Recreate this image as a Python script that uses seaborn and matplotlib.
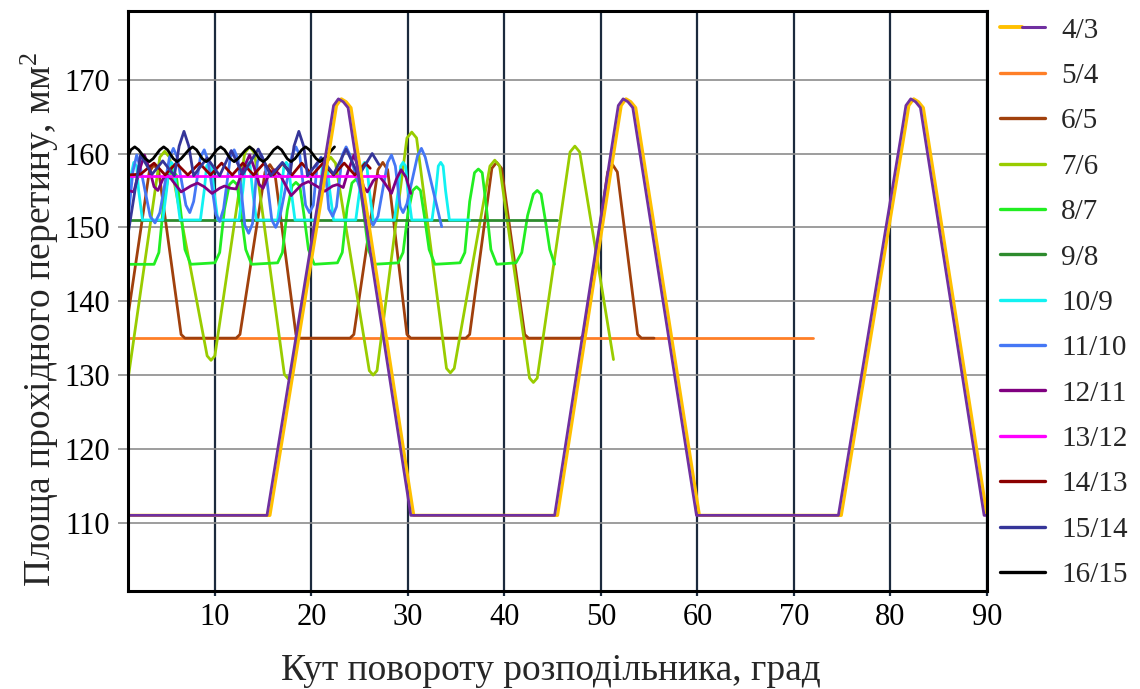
import matplotlib
matplotlib.use("Agg")
import matplotlib.pyplot as plt
import seaborn as sns
from matplotlib.lines import Line2D
from matplotlib.legend_handler import HandlerTuple

# ---------------- data ----------------
labels = ["4/3", "5/4", "6/5", "7/6", "8/7", "9/8", "10/9", "11/10",
          "12/11", "13/12", "14/13", "15/14", "16/15"]

x_43 = [1.0, 15.4, 21.9, 22.3, 22.8, 23.3, 23.8, 30.3, 45.2, 51.4, 51.8, 52.3, 52.8, 53.3,
        59.9, 74.6, 81.2, 81.6, 82.1, 82.6, 83.1, 89.7, 90.0]
y_43 = [111, 111, 163.2, 166.5, 167.4, 167.0, 166.2, 111, 111, 163.2, 166.5, 167.4, 167.0, 166.2,
        111, 111, 163.2, 166.5, 167.4, 167.0, 166.2, 111, 111]
x_43b = [1.0, 15.7, 22.2, 22.6, 23.1, 23.6, 24.1, 30.6, 45.5, 51.7, 52.1, 52.6, 53.1, 53.6,
         60.2, 74.9, 81.5, 81.9, 82.4, 82.9, 83.4, 90.0]
y_43b = [111, 111, 163.2, 166.5, 167.4, 167.0, 166.2, 111, 111, 163.2, 166.5, 167.4, 167.0, 166.2,
         111, 111, 163.2, 166.5, 167.4, 167.0, 166.2, 111]

x_54 = [1.0, 72.0]
y_54 = [135.0, 135.0]

x_65 = [1.0, 3.2, 3.7, 4.2, 6.5, 6.9, 12.2, 12.6, 15.2, 15.7, 16.2, 18.4, 18.8,
        24.0, 24.4, 26.9, 27.4, 27.9, 29.9, 30.3, 36.0, 36.4, 38.7, 39.2, 39.7, 42.1, 42.5,
        47.9, 48.3, 50.7, 51.2, 51.7, 53.8, 54.2, 55.5]
y_65 = [138, 157.5, 158.5, 157.5, 135.5, 135, 135, 135.5, 157.5, 158.5, 157.5, 135.5, 135,
        135, 135.5, 157.8, 158.8, 157.8, 135.5, 135, 135, 135.5, 158, 158.8, 158, 135.5, 135,
        135, 135.5, 157.5, 158.5, 157.5, 135.5, 135, 135]

x_76 = [1.0, 4.3, 4.8, 5.3, 9.2, 9.6, 10.0, 13.1, 13.6, 14.1, 17.2, 17.6, 18.0,
        21.5, 22.0, 22.5, 26.0, 26.4, 26.8, 29.9, 30.4, 30.9, 34.0, 34.4, 34.8,
        38.5, 39.0, 39.5, 42.6, 43.0, 43.4, 46.8, 47.3, 47.8, 51.3]
y_76 = [129.4, 159.5, 160.3, 159.5, 132.6, 132.0, 132.6, 160.1, 160.9, 160.1, 130.1, 129.5, 130.1,
        158.7, 159.5, 158.7, 130.6, 130.0, 130.6, 162.1, 162.9, 162.1, 130.9, 130.3, 130.9,
        158.3, 159.1, 158.3, 129.6, 129.0, 129.6, 160.2, 161.0, 160.2, 132.1]

x_87 = [1.0,
        3.7, 4.2, 4.7, 5.2, 5.6, 6.0, 6.4, 6.9, 7.5,
        10.0, 10.5, 11.0, 11.5, 11.9, 12.3, 12.7, 13.2, 13.8,
        16.5, 17.0, 17.5, 18.0, 18.4, 18.8, 19.2, 19.7, 20.3,
        22.7, 23.2, 23.7, 24.2, 24.6, 25.0, 25.4, 25.9, 26.5,
        29.0, 29.5, 30.0, 30.5, 30.9, 31.3, 31.7, 32.2, 32.8,
        35.4, 35.9, 36.4, 36.9, 37.3, 37.7, 38.1, 38.6, 39.2,
        41.2, 41.8, 42.4, 43.0, 43.4, 43.8, 44.2, 44.7, 45.2]
y_87 = [145.0,
        145.0, 146.6, 153.3, 157.1, 157.6, 157.1, 152.9, 147.0, 145.0,
        145.2, 146.6, 152.5, 155.8, 156.3, 155.8, 152.1, 147.0, 145.0,
        145.2, 146.6, 152.3, 155.6, 156.1, 155.6, 152.0, 147.0, 145.0,
        145.2, 146.6, 152.6, 156.0, 156.5, 156.0, 152.2, 147.0, 145.0,
        145.2, 146.6, 151.9, 155.0, 155.5, 155.0, 151.6, 147.0, 145.0,
        145.2, 146.6, 153.5, 157.4, 157.9, 157.4, 153.1, 147.0, 145.0,
        145.2, 146.6, 151.6, 154.5, 155.0, 154.5, 151.3, 147.0, 145.0]

x_98 = [1.0, 45.4]
y_98 = [151.0, 151.0]

x_109 = [1.0, 1.3, 1.6, 1.9, 2.1, 2.5,
         4.6, 5.0, 5.25, 5.5, 5.75, 6.0, 6.4,
         8.5, 8.9, 9.15, 9.4, 9.65, 9.9, 10.3,
         12.5, 12.9, 13.15, 13.4, 13.65, 13.9, 14.3,
         16.5, 16.9, 17.15, 17.4, 17.65, 17.9, 18.3,
         20.5, 20.9, 21.15, 21.4, 21.65, 21.9, 22.3,
         24.6, 25.0, 25.25, 25.5, 25.75, 26.0, 26.4,
         28.6, 29.0, 29.25, 29.5, 29.75, 30.0, 30.4,
         32.5, 32.9, 33.15, 33.4, 33.65, 33.9, 34.3,
         36.4]
y_109 = [153.0, 157.0, 158.8, 158.3, 155.0, 151.0,
         151, 155, 158.3, 158.8, 158.3, 155, 151,
         151, 155, 158.3, 158.8, 158.3, 155, 151,
         151, 155, 158.3, 158.8, 158.3, 155, 151,
         151, 155, 158.3, 158.8, 158.3, 155, 151,
         151, 155, 158.3, 158.8, 158.3, 155, 151,
         151, 155, 158.3, 158.8, 158.3, 155, 151,
         151, 155, 158.3, 158.8, 158.3, 155, 151,
         151, 155, 158.3, 158.8, 158.3, 155, 151,
         151.0]

x_1110 = [1.0, 1.5, 1.9, 2.3, 3.3, 3.8, 4.3, 5.3, 5.7, 6.1, 7.0, 7.4, 7.8, 8.5, 8.9, 9.3,
          10.1, 10.5, 10.9, 11.6, 12.0, 12.4, 13.1, 13.5, 13.9, 14.4, 14.8, 15.2, 15.9, 16.3,
          16.7, 18.0, 18.4, 18.8, 19.4, 19.8, 20.2, 20.6, 21.0, 21.4, 21.8, 22.2, 22.6, 23.2,
          23.6, 24.0, 25.9, 26.4, 26.9, 27.9, 28.3, 28.7, 29.2, 29.5, 29.9, 31.0, 31.4, 31.8,
          33.5]
y_1110 = [151.0, 157.5, 159.8, 158.0, 151.5, 150.6, 152.0, 159.5, 160.7, 159.5, 153.0, 152.0,
          153.5, 159.5, 160.5, 159.0, 151.8, 150.8, 152.5, 159.5, 160.5, 159.2, 150.3, 149.2,
          150.5, 158.8, 159.9, 158.5, 151.0, 150.0, 151.2, 159.8, 160.9, 159.7, 153.0, 152.0,
          153.0, 158.5, 159.5, 158.5, 152.5, 151.5, 152.8, 159.8, 160.9, 159.8, 151.3, 150.3,
          151.5, 158.8, 159.8, 158.3, 152.8, 152.0, 153.2, 159.7, 160.7, 159.5, 150.1]

x_1211 = [1.0, 1.6, 2.2, 2.7, 3.2, 3.7, 4.1, 4.6, 5.0, 5.5, 6.5, 7.5, 8.2, 8.9, 9.7, 10.5,
          11.0, 11.6, 12.2, 12.9, 13.6, 14.1, 14.6, 15.0, 15.6, 16.2, 16.8, 17.9, 19.0, 19.7,
          20.4, 21.4, 22.2, 22.7, 23.3, 23.8, 24.4, 24.9, 25.4, 25.8, 26.4, 27.0, 27.6, 28.3,
          28.8, 29.3, 29.8, 30.3]
y_1211 = [155.0, 154.8, 157.8, 159.8, 158.0, 155.5, 155.0, 156.5, 157.2, 156.5, 154.8, 155.6,
          156.0, 155.5, 154.6, 155.3, 155.6, 155.3, 155.2, 157.8, 159.8, 158.0, 155.8, 155.3,
          157.2, 157.8, 157.0, 154.3, 155.8, 156.2, 155.7, 154.9, 155.6, 155.8, 155.4, 157.6,
          159.8, 158.0, 155.5, 154.8, 156.3, 157.0, 156.0, 154.6, 156.5, 157.8, 156.8, 154.6]

x_1312 = [1.0, 27.6]
y_1312 = [157.0, 157.0]

x_1413 = [1.0, 2.3, 3.7, 4.85, 6.0, 7.2, 8.4, 9.55, 10.7, 11.8, 12.9, 14.0, 15.1, 16.05,
          17.0, 18.0, 19.0, 20.1, 21.2, 22.3, 23.4, 24.5, 25.6, 26.1]
y_1413 = [157.1, 157.2, 158.7, 157.1, 158.7, 157.1, 158.7, 157.1, 158.7, 157.1, 158.7, 157.1,
          158.7, 157.1, 158.7, 157.1, 158.7, 157.1, 158.7, 157.1, 158.7, 157.1, 158.7, 158.0]

x_1514 = [1.0, 2.3, 3.5, 4.6, 5.8, 6.3, 6.8, 7.3, 7.8, 9.2, 10.5, 11.7, 12.9, 14.5, 15.8,
          17.0, 17.8, 18.2, 18.7, 19.2, 19.6, 21.0, 22.3, 23.6, 24.9, 26.3, 27.0]
y_1514 = [149.0, 159.8, 157.2, 159.0, 157.0, 161.0, 163.0, 161.0, 157.0, 159.4, 157.0, 160.4,
          157.2, 160.6, 157.0, 158.8, 157.3, 161.0, 163.0, 161.0, 157.0, 159.4, 157.2, 160.6,
          157.0, 160.0, 158.5]

x_1615 = [1.0, 1.3, 1.7, 2.1, 2.8, 3.2, 3.6, 4.3, 4.7, 5.1, 5.7, 6.1, 6.5, 7.3, 7.7, 8.1,
          8.7, 9.1, 9.5, 10.2, 10.6, 11.0, 11.6, 12.0, 12.4, 13.2, 13.6, 14.0, 14.6, 15.0,
          15.4, 16.1, 16.5, 16.9, 17.5, 17.9, 18.3, 19.0, 19.4, 19.8, 20.5, 20.9, 21.3, 22.4]
y_1615 = [159.6, 160.5, 160.9, 160.5, 159.3, 158.9, 159.3, 160.5, 160.9, 160.5, 159.3, 158.9,
          159.3, 160.5, 160.9, 160.5, 159.3, 158.9, 159.3, 160.5, 160.9, 160.5, 159.3, 158.9,
          159.3, 160.5, 160.9, 160.5, 159.3, 158.9, 159.3, 160.5, 160.9, 160.5, 159.3, 158.9,
          159.3, 160.5, 160.9, 160.5, 159.3, 158.9, 159.3, 160.9]

colors = {
    "4/3": "#7030A0", "4/3b": "#FFC000", "5/4": "#FF7F27", "6/5": "#A0400C",
    "7/6": "#99CC00", "8/7": "#22EE22", "9/8": "#2E8B2E", "10/9": "#12F2F2",
    "11/10": "#4577F5", "12/11": "#800080", "13/12": "#FF00FF", "14/13": "#8B0000",
    "15/14": "#353599", "16/15": "#000000",
}

x_ticks = [10, 20, 30, 40, 50, 60, 70, 80, 90]
y_ticks = [110, 120, 130, 140, 150, 160, 170]

# ---------------- style ----------------
sns.set_theme(style="white")
plt.rcParams["font.family"] = ["Liberation Serif", "DejaVu Serif"]
plt.rcParams["mathtext.fontset"] = "custom"
plt.rcParams["mathtext.rm"] = "Liberation Serif"
plt.rcParams["mathtext.it"] = "Liberation Serif:italic"

fig = plt.figure(figsize=(11.4, 6.89), dpi=100)
ax = fig.add_axes([0.11228, 0.14224, 0.75351, 0.84180])

LW = 2.0
series = [
    ("5/4", x_54, y_54), ("6/5", x_65, y_65), ("7/6", x_76, y_76), ("8/7", x_87, y_87),
    ("9/8", x_98, y_98), ("10/9", x_109, y_109), ("11/10", x_1110, y_1110),
    ("12/11", x_1211, y_1211), ("13/12", x_1312, y_1312), ("14/13", x_1413, y_1413),
    ("15/14", x_1514, y_1514), ("16/15", x_1615, y_1615),
]
for name, xs, ys in series:
    sns.lineplot(x=xs, y=ys, ax=ax, color=colors[name], lw=LW, estimator=None,
                 sort=False, legend=False)
sns.lineplot(x=x_43b, y=y_43b, ax=ax, color=colors["4/3b"], lw=LW + 0.3, estimator=None,
             sort=False, legend=False)
sns.lineplot(x=x_43, y=y_43, ax=ax, color=colors["4/3"], lw=LW, estimator=None,
             sort=False, legend=False)

ax.set_xlim(1, 90)
ax.set_ylim(100.76, 179.3)
ax.set_xticks(x_ticks)
ax.set_yticks(y_ticks)
ax.set_xlabel("")
ax.set_ylabel("")
ax.set_axisbelow(True)
ax.xaxis.grid(True, color="#1B2A3D", lw=1.6)
ax.yaxis.grid(True, color="#8C8C8C", lw=1.2)
ax.tick_params(axis="x", length=3.6, width=1.6, color="#1B2A3D", pad=5, labelsize=22,
               labelcolor="black", bottom=True)
ax.tick_params(axis="y", length=7, width=1.2, color="#8C8C8C", pad=6, labelsize=22,
               labelcolor="black", left=True)
for s in ax.spines.values():
    s.set_color("black")
    s.set_linewidth(2.2)
    s.set_visible(True)

fig.text(551 / 1140, 1 - 671 / 689, "Кут повороту розподільника, град",
         ha="center", va="center", fontsize=27)
fig.text(40 / 1140, 1 - 319 / 689, "Площа прохідного перетину, мм$^2$",
         ha="center", va="center", rotation=90, fontsize=27)

# legend
handles = []
for name in labels:
    if name == "4/3":
        h = (Line2D([], [], color=colors["4/3b"], lw=2.8),
             Line2D([], [], color=colors["4/3"], lw=2.2))
    else:
        h = Line2D([], [], color=colors[name], lw=2.4)
    handles.append(h)
fig.legend(handles, labels, loc="upper left", bbox_to_anchor=(0.877, 0.975),
           frameon=False, fontsize=21, handlelength=1.55, handletextpad=0.55,
           labelspacing=0.65, borderpad=0, borderaxespad=0,
           handler_map={tuple: HandlerTuple(ndivide=None, pad=0)})

fig.savefig("out.png", dpi=100)
